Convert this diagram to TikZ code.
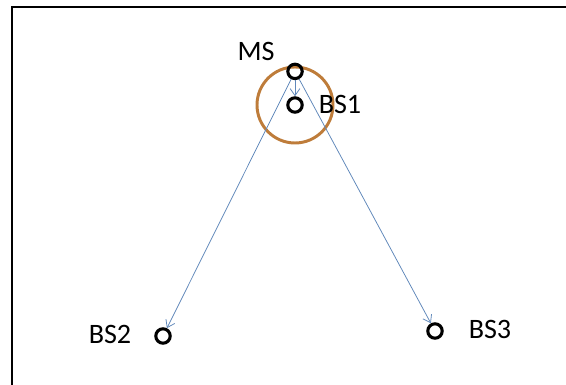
\documentclass[tikz,border=0pt]{standalone}
\usepackage{fontspec}
\usetikzlibrary{arrows.meta}
\setmainfont{Carlito}
\definecolor{rangecol}{RGB}{190,124,58}
\definecolor{linkcol}{RGB}{96,136,186}
\tikzset{
  station/.style={circle, draw, line width=2.2pt, minimum size=0.36cm, inner sep=0pt},
  tag/.style={font=\fontsize{20}{24}\selectfont},
  link/.style={-{Straight Barb[length=5pt,width=7pt]}, draw=linkcol, line width=0.55pt}
}
\begin{document}
\begin{tikzpicture}
            \useasboundingbox (0, 0) rectangle (14.15, 9.625);
            \draw[line width=1.4pt] (0.29, 0) -- (0.29, 9.45) -- (14.15, 9.45);

            % coverage of the serving base station
            \draw[rangecol, line width=2.1pt] (7.375, 7.0) circle (0.95);

            \node[station] (ms) at (7.375, 7.84) {};
            \node[station] (bs1) at (7.375, 7.0) {};
            \node[station] (bs2) at (4.075, 1.225) {};
            \node[station] (bs3) at (10.875, 1.35) {};

            \node[tag] (msname) at (6.4, 8.35) {MS};
            \node[tag] (bs1name) at (8.5, 7.02) {BS1};
            \node[tag] (bs2name) at (2.75, 1.27) {BS2};
            \node[tag] (bs3name) at (12.25, 1.4) {BS3};

            \draw[link] (ms) -- (bs1);
            \draw[link] (ms) -- (bs2);
            \draw[link] (ms) -- (bs3);
\end{tikzpicture}
\end{document}
